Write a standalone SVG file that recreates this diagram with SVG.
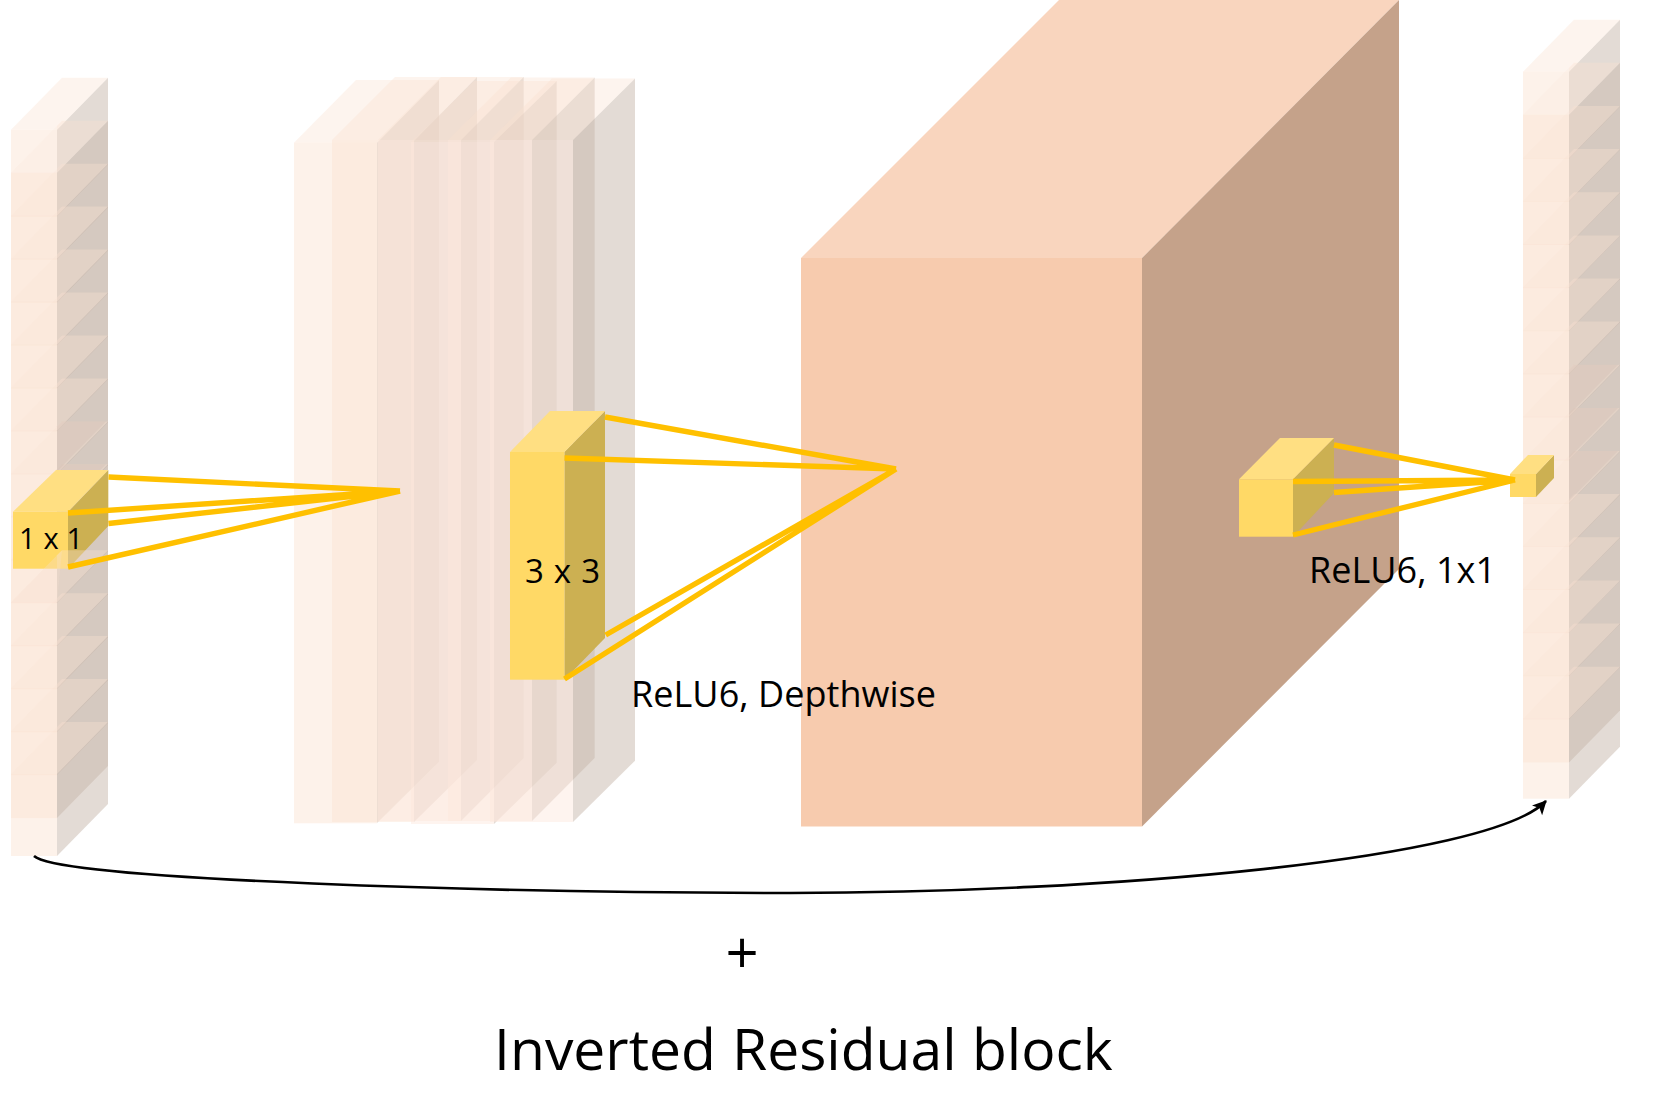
<svg xmlns="http://www.w3.org/2000/svg" width="1657" height="1117" viewBox="0 0 1657 1117">
<style>
.f{fill:rgb(250,227,210);fill-opacity:.46}
.m{fill:rgb(252,232,220);fill-opacity:.46}
.s{fill:rgb(199,183,171);fill-opacity:.5}
.t{fill:rgb(249,225,210);fill-opacity:.37}
.t2{fill:rgb(250,215,195);fill-opacity:.1}
.c{fill:rgb(205,185,175);fill-opacity:.3}
.yf{fill:#FFD966}.yt{fill:#FFDF82}.ys{fill:#CCB052}
.ln{fill:none;stroke:#FFC000;stroke-width:5.4}
text{font-family:"Open Sans","Noto Sans","Liberation Sans",sans-serif;fill:#000}
</style>
<defs>
<g id="cube"><polygon class="s" points="46,0 97,-52 97,35 46,87"/><rect class="f" width="46" height="87"/><polygon class="t" points="46,0 97,-52 51,-52 46,-47"/><polygon class="t2" points="0,0 46,0 46,-47"/></g>
<g id="cubeFirst"><polygon class="s" points="46,0 97,-52 97,35 46,87"/><rect class="f" width="46" height="87"/><polygon class="t" points="0,0 46,0 97,-52 51,-52"/></g>
<g id="cubeEnd"><polygon class="s" points="46,0 97,-52 97,30 46,82"/><rect class="f" width="46" height="82"/><polygon class="t" points="46,0 97,-52 51,-52 46,-47"/><polygon class="t2" points="0,0 46,0 46,-47"/></g>
<g id="cubeEnd2"><polygon class="s" points="46,0 97,-52 97,28 46,80"/><rect class="f" width="46" height="80"/><polygon class="t" points="46,0 97,-52 51,-52 46,-47"/><polygon class="t2" points="0,0 46,0 46,-47"/></g>
<polygon id="cover" class="c" points="46,-47 51,-52 95,-52 46,-2"/>
<marker id="ah" markerWidth="16" markerHeight="16" refX="13" refY="7" orient="auto" markerUnits="userSpaceOnUse"><path d="M0 0L14 7L0 14L3.5 7Z" fill="#000"/></marker>
</defs>

<g id="left-column">
<use href="#cubeFirst" x="11" y="129.8"/><use href="#cube" x="11" y="172.7"/><use href="#cube" x="11" y="215.7"/><use href="#cube" x="11" y="258.6"/>
<use href="#cube" x="11" y="301.6"/><use href="#cube" x="11" y="344.5"/><use href="#cube" x="11" y="387.5"/><use href="#cube" x="11" y="430.4"/>
<use href="#cube" x="11" y="473.4"/><use href="#cube" x="11" y="516.3"/><use href="#cube" x="11" y="559.3"/>
<use href="#cover" x="11" y="473.4"/><use href="#cover" x="11" y="516.3"/><use href="#cover" x="11" y="559.3"/>
<g id="yellow-1x1"><polygon class="ys" points="68,512 108.3,470 108.3,526 68,568.7"/><rect class="yf" x="13" y="511.7" width="55" height="57"/><polygon class="yt" points="13,511.7 68,511.7 108.3,470 56,470"/></g>
<use href="#cube" x="11" y="602.2"/><polygon class="t" points="11,602.2 57,602.2 62,550.2" opacity=".7"/><use href="#cube" x="11" y="645.2"/><use href="#cube" x="11" y="688.1"/><use href="#cube" x="11" y="731.1"/>
<use href="#cubeEnd" x="11" y="774"/>
</g>

<g id="middle-slabs">
<g id="slab1"><polygon class="s" points="377,142.7 439,80 439,761.7 377,823"/><rect class="f" x="294" y="142.7" width="83" height="680.6"/><polygon class="t" points="294,142.7 377,142.7 439,80 356,80"/></g>
<g id="slab2"><polygon class="s" points="414,141 477,77 477,760 414,822"/><rect class="f" x="332" y="140" width="82" height="682"/><polygon class="t" points="332,140 414,140 477,77 395,77"/></g>
<g id="slab3"><polygon class="s" points="461,140 523.7,77 523.7,758 461,821"/><rect class="m" x="378" y="140" width="83" height="681"/><polygon class="t" points="378,140 461,140 523.7,77 441,77"/></g>
<g id="slab4"><polygon class="s" points="494,142 556.7,81 556.7,762.7 494,824"/><rect class="m" x="411" y="142" width="83" height="682"/><polygon class="t" points="411,142 494,142 556.7,81 474,81"/></g>
<g id="slab5"><polygon class="s" points="532,140 594.7,77.5 594.7,758 532,821"/><rect class="m" x="448" y="140" width="84" height="681"/><polygon class="t" points="448,140 532,140 594.7,77.5 511,77.5"/></g>
<g id="slab6"><polygon class="s" points="573,140 635,78.5 635,760.7 573,822"/><rect class="m" x="490" y="140" width="83" height="682"/><polygon class="t" points="490,140 573,140 635,78.5 552,78.5"/></g>
</g>

<g id="yellow-3x3"><polygon class="ys" points="564.4,452 605,411 605,638 564.4,679.7"/><rect class="yf" x="510" y="452" width="54.4" height="227.7"/><polygon class="yt" points="510,452 564.4,452 605,411 550,411"/></g>

<g id="big-block">
<polygon fill="#F9D5BE" points="801,258 1142,258 1399,0 1059,0"/>
<polygon fill="#C5A28A" points="1142,258 1399,0 1399,569 1142,826.5"/>
<rect fill="#F7CBAE" x="801" y="258" width="341" height="568.5"/>
</g>

<g id="yellow-big"><polygon class="ys" points="1293,479.3 1334,438 1334,493 1293,536.7"/><rect class="yf" x="1239" y="479.3" width="54" height="57.4"/><polygon class="yt" points="1239,479.3 1293,479.3 1334,438 1280,438"/></g>

<g id="right-column">
<use href="#cubeFirst" x="1523" y="71.7"/><use href="#cube" x="1523" y="114.8"/><use href="#cube" x="1523" y="158"/><use href="#cube" x="1523" y="201.1"/>
<use href="#cube" x="1523" y="244.2"/><use href="#cube" x="1523" y="287.4"/><use href="#cube" x="1523" y="330.5"/><use href="#cube" x="1523" y="373.6"/>
<use href="#cube" x="1523" y="416.7"/><use href="#cube" x="1523" y="459.9"/><use href="#cube" x="1523" y="503"/><use href="#cube" x="1523" y="546.1"/>
<use href="#cube" x="1523" y="589.3"/><use href="#cube" x="1523" y="632.4"/><use href="#cube" x="1523" y="675.5"/><use href="#cubeEnd2" x="1523" y="718.7"/>
<use href="#cover" x="1523" y="416.7"/><use href="#cover" x="1523" y="459.9"/><use href="#cover" x="1523" y="503"/>
</g>

<g id="yellow-small"><polygon class="ys" points="1536,474 1554,455 1554,478 1536,497"/><rect class="yf" x="1510" y="474" width="26" height="23"/><polygon class="yt" points="1510,474 1536,474 1554,455 1528,455"/></g>

<g id="connectors">
<path class="ln" d="M108.5 477L400 491M68 513L400 491M108.5 523.5L400 491M68 567L400 491"/>
<path class="ln" d="M605 417L896 469M564.5 458L896 469M605.7 635L896 469M564.5 679L896 469"/>
<path class="ln" d="M1334 445L1515 480M1293 481.5L1515 480M1334 492.5L1515 480M1293 535L1515 480"/>
<path fill="none" stroke="#000" stroke-width="2.6" marker-end="url(#ah)" d="M34 856C60 880 500 893 790 893C1100 893 1490 860 1546 801"/>
</g>

<g id="labels">
<text x="19" y="548.5" font-size="29" textLength="64">1 x 1</text>
<text x="525" y="582.5" font-size="33" textLength="75">3 x 3</text>
<text x="631" y="706.7" font-size="36" textLength="305">ReLU6, Depthwise</text>
<text x="1309" y="583.3" font-size="36" textLength="187">ReLU6, 1x1</text>
<text x="742" y="974" font-size="58" text-anchor="middle">+</text>
<text y="1070" font-size="57"><tspan x="494">Inverted </tspan><tspan x="732">Residual </tspan><tspan x="972">block</tspan></text>
</g>
</svg>
